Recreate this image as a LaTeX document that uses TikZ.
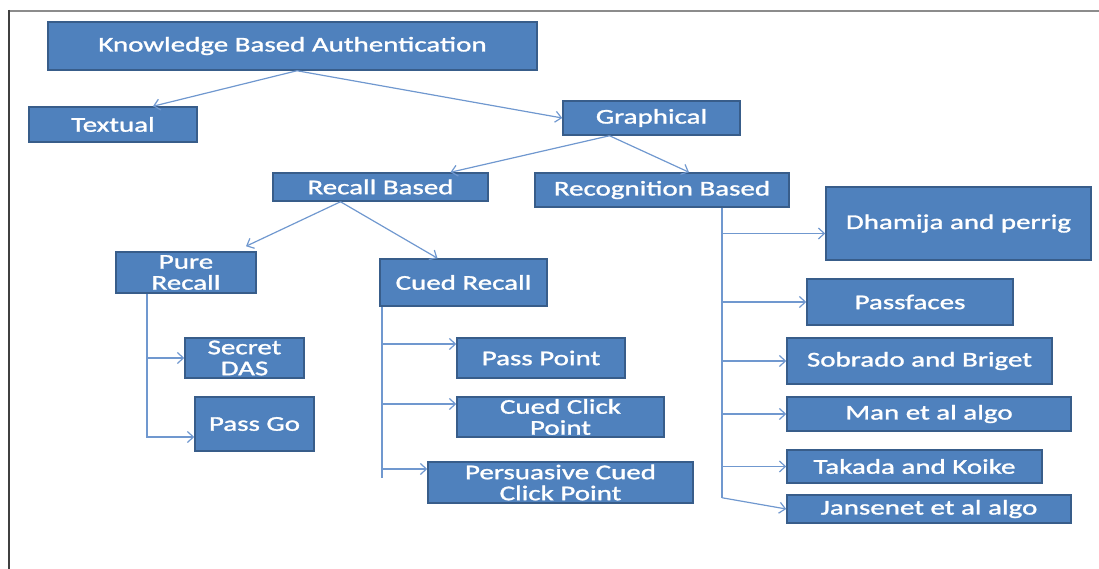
\documentclass[tikz,border=0pt]{standalone}
\usepackage{fontspec}
\usepackage{tikz}
\usetikzlibrary{arrows.meta, positioning}
\newfontfamily\boxfont{Carlito}[FakeStretch=1.38, FakeBold=1.4]
\definecolor{boxfill}{RGB}{79,129,189}
\definecolor{boxedge}{RGB}{56,93,138}
\definecolor{linkblue}{RGB}{112,152,207}

\begin{document}
\begin{tikzpicture}
  [
    x=1pt, y=-1pt,
    Box/.style={rectangle, draw=boxedge, fill=boxfill, line width=1.5pt, text=white, inner sep=0pt, align=center, font=\boxfont\fontsize{21}{21}\selectfont},
    Link/.style={draw=linkblue, line width=1.2pt},
    Arrow/.style={Link, -{Straight Barb[length=6pt, width=11pt]}}
  ]
  \useasboundingbox (0,0) rectangle (1099,569);

  % Frame
  \draw[black!45, line width=2pt] (8,11) -- (1099,11);
  \draw[black!75, line width=2pt] (9,10) -- (9,569);

  % Boxes
  \node[Box, minimum width=489pt, minimum height=48pt] (kba) at (292.5,46) {Knowledge Based Authentication};
  \node[Box, minimum width=168pt, minimum height=35pt] (textual) at (113,124.5) {Textual};
  \node[Box, minimum width=177pt, minimum height=34pt] (graphical) at (651.5,118) {Graphical};
  \node[Box, minimum width=215pt, minimum height=28pt] (recall) at (380.5,187) {Recall Based};
  \node[Box, minimum width=254pt, minimum height=34pt] (recog) at (662,190) {Recognition Based};
  \node[Box, minimum width=140pt, minimum height=41pt] (pure) at (186,272.5) {Pure\\Recall};
  \node[Box, minimum width=167pt, minimum height=47pt] (cued) at (463.5,282.5) {Cued Recall};
  \node[Box, minimum width=119pt, minimum height=40pt] (secret) at (244.5,358) {Secret\\DAS};
  \node[Box, minimum width=119pt, minimum height=54pt] (passgo) at (254.5,424) {Pass Go};
  \node[Box, minimum width=168pt, minimum height=40pt] (passpoint) at (541,358) {Pass Point};
  \node[Box, minimum width=207pt, minimum height=40pt] (cuedclick) at (560.5,417) {Cued Click\\Point};
  \node[Box, minimum width=265pt, minimum height=41pt] (persuasive) at (560.5,482.5) {Persuasive Cued\\Click Point};
  \node[Box, minimum width=265pt, minimum height=73pt] (dhamija) at (958.5,223.5) {Dhamija and perrig};
  \node[Box, minimum width=206pt, minimum height=46pt] (passfaces) at (910,302) {Passfaces};
  \node[Box, minimum width=265pt, minimum height=46pt] (sobrado) at (919.5,361) {Sobrado and Briget};
  \node[Box, minimum width=284pt, minimum height=34pt] (man) at (929,414) {Man et al algo};
  \node[Box, minimum width=255pt, minimum height=33pt] (takada) at (914.5,466.5) {Takada and Koike};
  \node[Box, minimum width=284pt, minimum height=28pt] (jansenet) at (929,509) {Jansenet et al algo};

  % Branch points
  \coordinate (ktop) at ([xshift=4.5pt]kba.south);
  \coordinate (gbot) at ([xshift=-42pt]graphical.south);
  \coordinate (rbot) at ([xshift=-40pt]recall.south);
  \coordinate (ptop) at ([xshift=-39pt]pure.south);
  \coordinate (ctop) at ([xshift=-81.5pt]cued.south);
  \coordinate (qtop) at ([xshift=60pt]recog.south);
  \coordinate (pp) at ([yshift=14pt]passpoint.west);
  \coordinate (cc) at ([yshift=13pt]cuedclick.west);
  \coordinate (pc) at ([yshift=13.5pt]persuasive.west);
  \coordinate (dp) at ([yshift=-10pt]dhamija.west);

  % Lines
  \path [Arrow] (ktop) -- ([xshift=40pt]textual.north);
  \path [Arrow] (ktop) -- (graphical.west);
  \path [Arrow] (gbot) -- ([xshift=70pt]recall.north);
  \path [Arrow] (gbot) -- ([xshift=27pt]recog.north);
  \path [Arrow] (rbot) -- ([xshift=60pt, yshift=5pt]pure.north);
  \path [Arrow] (rbot) -- ([xshift=-26pt]cued.north);

  \path [Arrow] (ptop) |- ([yshift=-13pt]passgo.west);
  \path [Arrow] (ptop |- secret.west) -- (secret.west);

  \path [Link] (ctop) -- ++(0,171);
  \path [Arrow] (ctop |- pp) -- (pp);
  \path [Arrow] (ctop |- cc) -- (cc);
  \path [Arrow] (ctop |- pc) -- (pc);

  \path [Link] (qtop) -- ++(0,290) coordinate (qend);
  \path [Arrow] (qend) -- (jansenet.west);
  \path [Arrow] (qtop |- dp) -- (dp);
  \path [Arrow] (qtop |- passfaces.west) -- (passfaces.west);
  \path [Arrow] (qtop |- sobrado.west) -- (sobrado.west);
  \path [Arrow] (qtop |- man.west) -- (man.west);
  \path [Arrow] (qtop |- takada.west) -- (takada.west);

\end{tikzpicture}
\end{document}
